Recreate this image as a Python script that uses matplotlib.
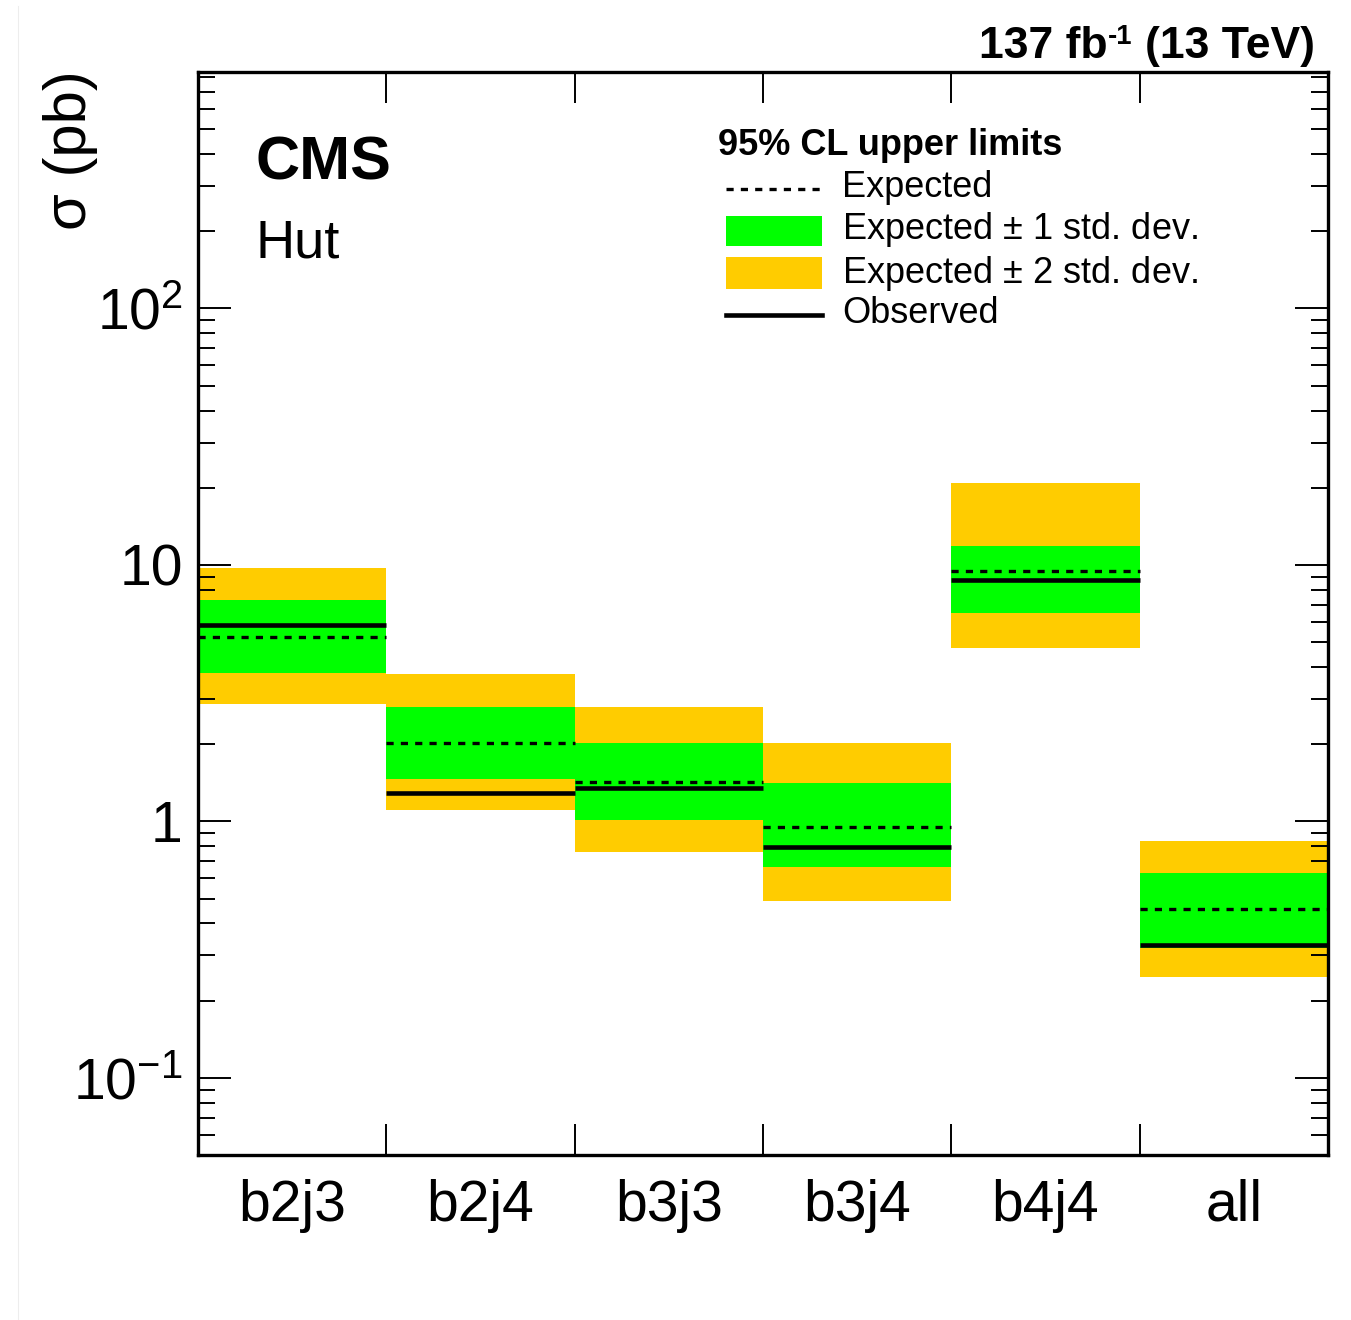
import matplotlib
matplotlib.use("Agg")
import matplotlib.pyplot as plt
from matplotlib.lines import Line2D
from matplotlib.patches import Rectangle
from matplotlib.ticker import FixedLocator, FixedFormatter, NullFormatter, LogLocator
import numpy as np

# 95% CL upper limits on the cross section (pb), Hut coupling
categories = ["b2j3", "b2j4", "b3j3", "b3j4", "b4j4", "all"]
observed = [5.84, 1.29, 1.35, 0.793, 8.74, 0.330]
expected = [5.23, 2.03, 1.43, 0.954, 9.50, 0.455]
minus_1sd = [3.78, 1.46, 1.01, 0.663, 6.48, 0.322]
plus_1sd = [7.30, 2.80, 2.03, 1.41, 11.8, 0.628]
minus_2sd = [2.86, 1.11, 0.758, 0.487, 4.76, 0.248]
plus_2sd = [9.71, 3.76, 2.80, 2.03, 20.8, 0.842]
y_ticks = [0.1, 1, 10, 100]
y_tick_labels = [r"$10^{-1}$", "1", "10", r"$10^{2}$"]
y_range = (0.05, 836)

GREEN = "#00ff00"
ORANGE = "#ffcc00"
FONT = "Liberation Sans"

plt.rcParams["font.family"] = [FONT, "DejaVu Sans"]
plt.rcParams["mathtext.fontset"] = "custom"
plt.rcParams["mathtext.rm"] = FONT
plt.rcParams["mathtext.it"] = FONT + ":italic"
plt.rcParams["mathtext.bf"] = FONT + ":bold"

W, H = 1351, 1320
fig = plt.figure(figsize=(W / 100, H / 100), dpi=100)
fig.patch.set_facecolor("white")


def fx(px):
    return px / W


def fy(py):
    return 1 - py / H


ax = fig.add_axes([fx(198), fy(1155), fx(1328) - fx(198), fy(72) - fy(1155)])
ax.set_yscale("log")

x = np.arange(len(categories))
obs = np.array(observed)
exp_ = np.array(expected)
lo1, hi1 = np.array(minus_1sd), np.array(plus_1sd)
lo2, hi2 = np.array(minus_2sd), np.array(plus_2sd)

ax.bar(x, hi2 - lo2, bottom=lo2, width=1.0, color=ORANGE, linewidth=0, zorder=1)
ax.bar(x, hi1 - lo1, bottom=lo1, width=1.0, color=GREEN, linewidth=0, zorder=2)
dash = (0, (2.15, 2.15))
ax.hlines(exp_, x - 0.5, x + 0.5, colors="black", linestyles=[dash], linewidth=2.4, zorder=3)
ax.hlines(obs, x - 0.5, x + 0.5, colors="black", linewidth=3.3, zorder=4)

ax.set_xlim(-0.5, len(categories) - 0.5)
ax.set_ylim(*y_range)

# x axis: ticks on bin edges, labels in bin centres
ax.xaxis.set_major_locator(FixedLocator(x[:-1] + 0.5))
ax.xaxis.set_major_formatter(NullFormatter())
ax.xaxis.set_minor_locator(FixedLocator(x))
ax.xaxis.set_minor_formatter(FixedFormatter(categories))
ax.tick_params(axis="x", which="major", direction="in", length=22.3, width=1.4,
               top=True, bottom=True)
ax.tick_params(axis="x", which="minor", length=0, labelsize=41, pad=17)

# y axis
ax.yaxis.set_major_locator(FixedLocator(y_ticks))
ax.yaxis.set_major_formatter(FixedFormatter(y_tick_labels))
ax.yaxis.set_minor_locator(LogLocator(base=10, subs=np.arange(2, 10), numticks=20))
ax.yaxis.set_minor_formatter(NullFormatter())
ax.tick_params(axis="y", which="major", direction="in", length=23.8, width=1.4,
               left=True, right=True, labelsize=41, pad=11)
ax.tick_params(axis="y", which="minor", direction="in", length=12.2, width=1.4,
               left=True, right=True)

for sp in ax.spines.values():
    sp.set_linewidth(2.4)
    sp.set_zorder(10)

# axis title
fig.text(fx(70), fy(70), "σ (pb)", rotation=90, ha="center", va="top", fontsize=43)

# experiment labels
fig.text(fx(255), fy(180), "CMS", fontsize=44, fontweight="bold", va="baseline", ha="left")
fig.text(fx(255), fy(258), "Hut", fontsize=39, va="baseline", ha="left")

# luminosity label, assembled right to left so the superscript sits in place
renderer = fig.canvas.get_renderer()
LUMI_FS = 32
t_right = fig.text(fx(1315), fy(58), "(13 TeV)", fontsize=LUMI_FS, fontweight="bold",
                   ha="right", va="baseline")
left_px = t_right.get_window_extent(renderer).x0
space_px = 0.278 * LUMI_FS * 100 / 72
t_sup = fig.text((left_px - space_px) / W, fy(58) + 14 / H, "-1", fontsize=LUMI_FS * 0.62,
                 fontweight="bold", ha="right", va="baseline")
sup_left = t_sup.get_window_extent(renderer).x0
fig.text((sup_left - 1) / W, fy(58), "137 fb", fontsize=LUMI_FS, fontweight="bold",
         ha="right", va="baseline")

# legend
LEG_FS = 26
fig.text(fx(718), fy(155), "95% CL upper limits", fontsize=LEG_FS, fontweight="bold",
         ha="left", va="baseline")
fig.add_artist(Line2D([fx(726), fx(822)], [fy(189), fy(189)], color="black",
                      linestyle=dash, linewidth=2.4, transform=fig.transFigure))
fig.text(fx(842), fy(197), "Expected", fontsize=LEG_FS, ha="left", va="baseline")
fig.add_artist(Rectangle((fx(726), fy(246)), fx(822) - fx(726), fy(216) - fy(246),
                         facecolor=GREEN, edgecolor="none", transform=fig.transFigure))
fig.text(fx(842), fy(239), "Expected $\\pm$ 1 std. dev.", fontsize=LEG_FS,
         ha="left", va="baseline")
fig.add_artist(Rectangle((fx(726), fy(289)), fx(822) - fx(726), fy(257) - fy(289),
                         facecolor=ORANGE, edgecolor="none", transform=fig.transFigure))
fig.text(fx(842), fy(283), "Expected $\\pm$ 2 std. dev.", fontsize=LEG_FS,
         ha="left", va="baseline")
fig.add_artist(Line2D([fx(726), fx(822)], [fy(315), fy(315)], color="black",
                      linewidth=3.3, transform=fig.transFigure))
fig.text(fx(842), fy(323), "Observed", fontsize=LEG_FS, ha="left", va="baseline")

# faint page edge
fig.add_artist(Line2D([fx(18), fx(18)], [fy(6), fy(1320)], color="#ededed",
                      linewidth=0.8, transform=fig.transFigure))

fig.savefig("out.png", dpi=100, facecolor="white")
